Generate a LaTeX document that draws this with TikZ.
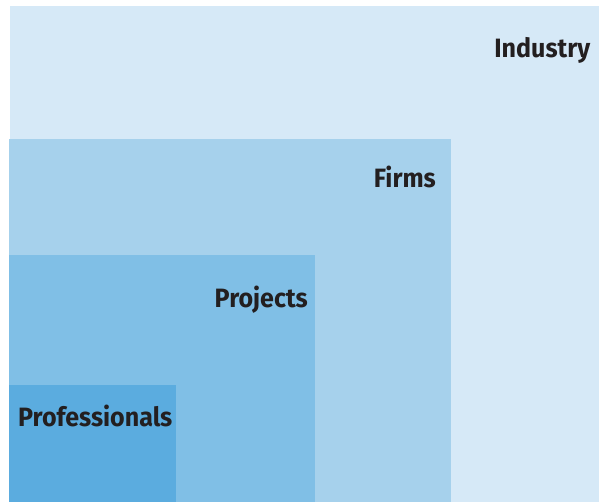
\documentclass[tikz,border=0pt]{standalone}
\usepackage{fontspec}
\setmainfont[FakeStretch=0.945]{Fira Sans}
\definecolor{cIndustry}{HTML}{D6E9F7}
\definecolor{cFirms}{HTML}{A6D1EC}
\definecolor{cProjects}{HTML}{80BFE6}
\definecolor{cProf}{HTML}{5BACDF}
\definecolor{txt}{HTML}{231F20}
\tikzset{lbl/.style={font=\fontsize{26.5}{30}\selectfont\bfseries, text=txt, inner sep=0pt, anchor=base east}}
\begin{document}
\begin{tikzpicture}[x=1pt,y=-1pt]
\useasboundingbox (0,0) rectangle (599,502);
\fill[cIndustry] (10,6) rectangle (599,502);
\fill[cFirms] (9,139) rectangle (451,502);
\fill[cProjects] (9,255) rectangle (315,502);
\fill[cProf] (9,385) rectangle (176,502);
\node[lbl] (industry) at (590.5,58) {Industry};
\node[lbl] (firms) at (436,188) {Firms};
\node[lbl] (projects) at (308,307) {Projects};
\node[lbl] (prof) at (172.5,426.5) {Professionals};
\end{tikzpicture}
\end{document}
